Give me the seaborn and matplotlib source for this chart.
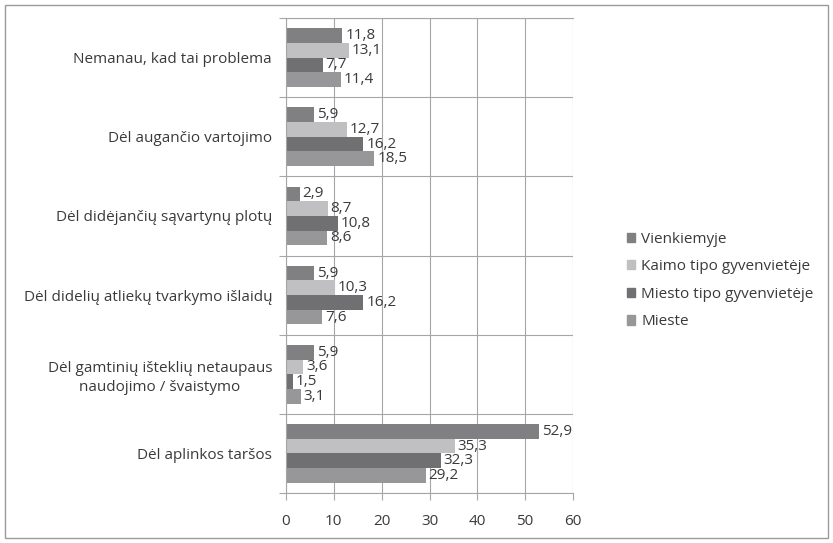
import matplotlib
matplotlib.use("Agg")
import matplotlib.pyplot as plt
import matplotlib.patches as mpatches
import seaborn as sns
import pandas as pd
import numpy as np

categories = [
    "Nemanau, kad tai problema",
    "Dėl augančio vartojimo",
    "Dėl didėjančių sąvartynų plotų",
    "Dėl didelių atliekų tvarkymo išlaidų",
    "Dėl gamtinių išteklių netaupaus\nnaudojimo / švaistymo",
    "Dėl aplinkos taršos",
]
series = ["Vienkiemyje", "Kaimo tipo gyvenvietėje", "Miesto tipo gyvenvietėje", "Mieste"]
vienkiemyje = [11.8, 5.9, 2.9, 5.9, 5.9, 52.9]
kaimo = [13.1, 12.7, 8.7, 10.3, 3.6, 35.3]
miesto_tipo = [7.7, 16.2, 10.8, 16.2, 1.5, 32.3]
mieste = [11.4, 18.5, 8.6, 7.6, 3.1, 29.2]
colors = ["#808083", "#c0c0c2", "#707073", "#97979a"]

rows = []
for name, vals in zip(series, [vienkiemyje, kaimo, miesto_tipo, mieste]):
    for cat, v in zip(categories, vals):
        rows.append({"cat": cat, "series": name, "value": v})
df = pd.DataFrame(rows)

sns.set_style("white")
plt.rcParams["font.family"] = ["Open Sans", "DejaVu Sans"]
text_color = "#3a3a3a"
line_color = "#a6a6a6"
fs = 11

fig = plt.figure(figsize=(8.33, 5.43), dpi=100)
ax = fig.add_axes([286 / 833, 1 - 493 / 543, 287 / 833, 475 / 543])

sns.barplot(data=df, y="cat", x="value", hue="series", order=categories,
            hue_order=series, palette=colors, orient="h", width=0.74,
            saturation=1, linewidth=0, legend=False, ax=ax)

for container in ax.containers:
    labels = [f"{v:.1f}".replace(".", ",") for v in container.datavalues]
    ax.bar_label(container, labels=labels, padding=2, fontsize=fs, color=text_color)

ax.set_xlim(0, 60)
ax.set_xticks(np.arange(0, 61, 10))
ax.set_ylim(len(categories) - 0.5, -0.5)
ax.set_yticks(range(len(categories)))
ax.set_yticklabels(categories, multialignment="center", linespacing=1.3)
ax.set_yticks(np.arange(-0.5, len(categories), 1), minor=True)
ax.tick_params(axis="y", which="major", length=0, pad=10, labelsize=fs, labelcolor=text_color)
ax.tick_params(axis="y", which="minor", length=5, width=0.8, color=line_color, left=True)
ax.tick_params(axis="x", length=5, width=0.8, color=line_color, bottom=True,
               labelsize=fs, labelcolor=text_color, pad=10)
ax.grid(axis="x", which="major", color=line_color, linewidth=0.8)
ax.grid(axis="y", which="minor", color=line_color, linewidth=0.8)
ax.set_axisbelow(True)
ax.set_xlabel("")
ax.set_ylabel("")
for side, sp in ax.spines.items():
    sp.set_color(line_color)
    sp.set_linewidth(0.8)
ax.spines["right"].set_visible(False)

handles = [mpatches.Patch(color=c, label=s) for c, s in zip(colors, series)]
fig.legend(handles=handles, loc="upper left", bbox_to_anchor=(613 / 833, 1 - 218 / 543),
           frameon=False, fontsize=fs, handlelength=0.55, handleheight=0.55,
           handletextpad=0.4, labelspacing=0.82, labelcolor=text_color)

fig.patches.append(mpatches.Rectangle((5 / 833, 5 / 543), 823 / 833, 533 / 543,
                                      transform=fig.transFigure, fill=False,
                                      edgecolor="#9a9a9a", linewidth=1))

fig.savefig("out.png", dpi=100)
